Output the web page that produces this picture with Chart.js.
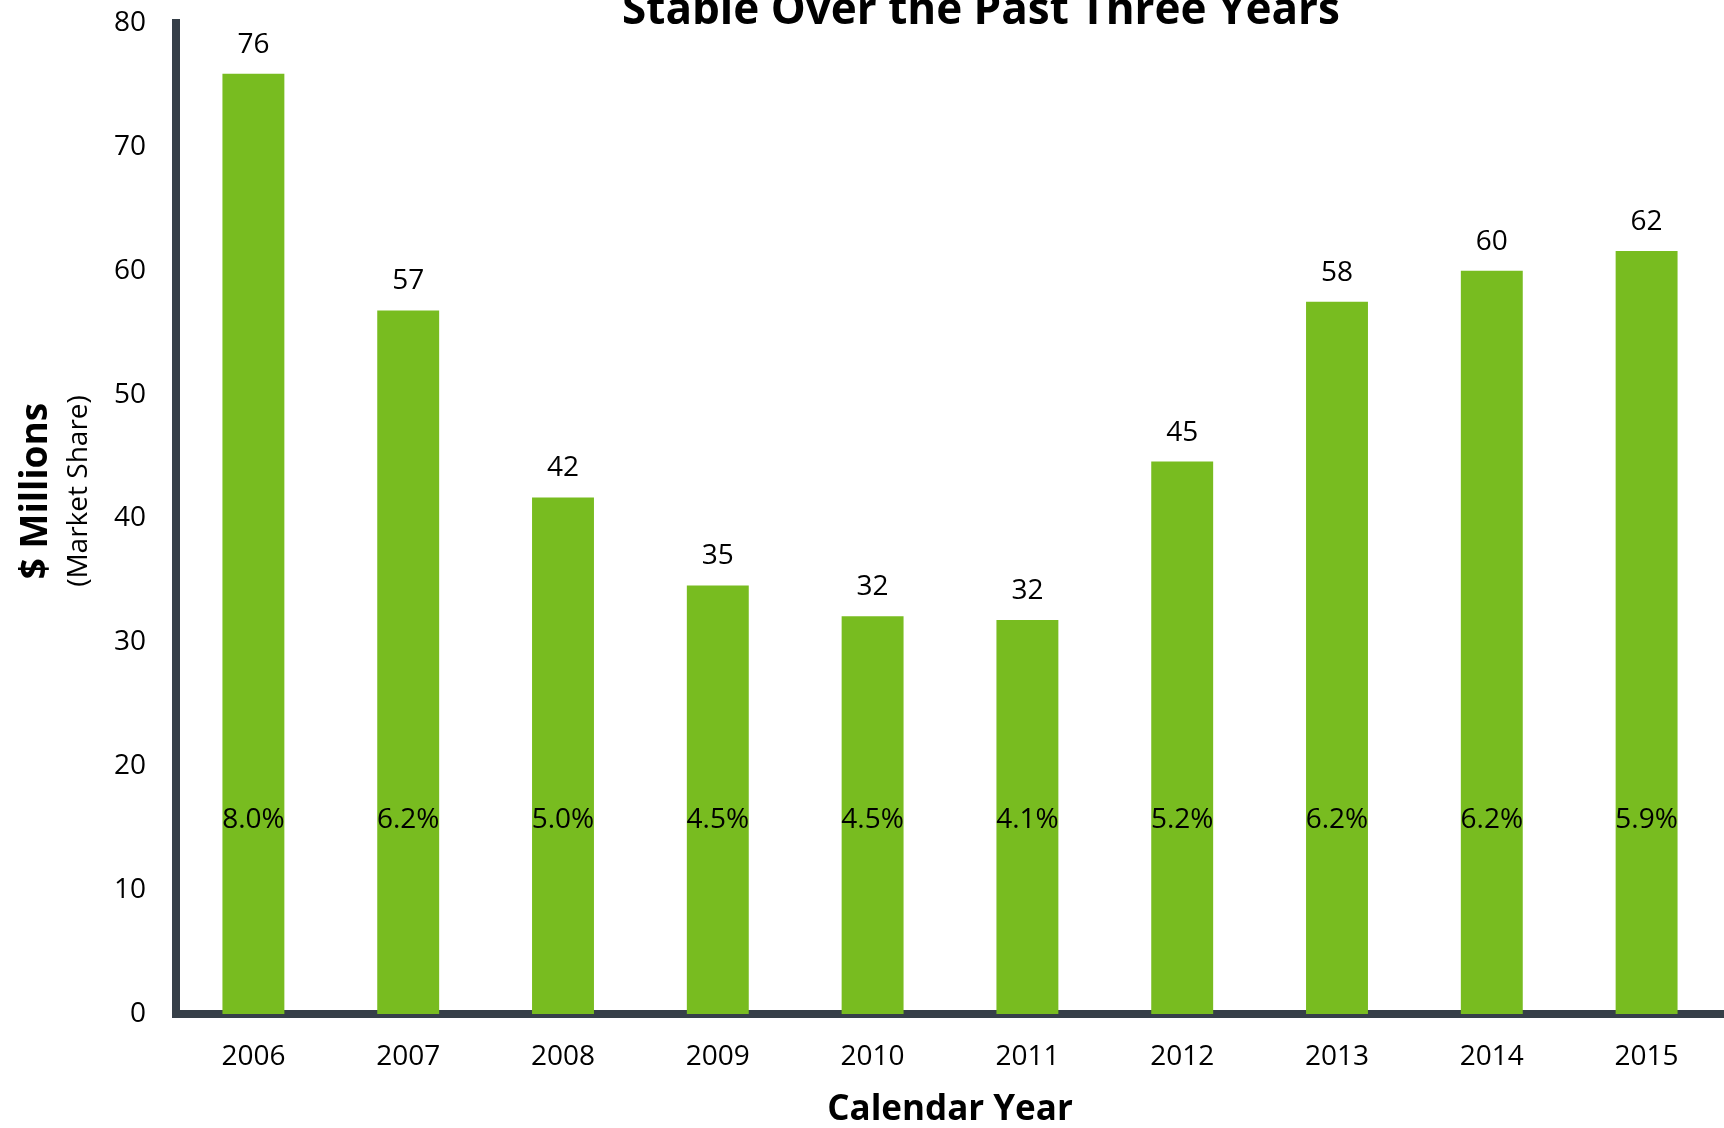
<!DOCTYPE html>
<html>
<head>
<meta charset="utf-8">
<script src="https://cdn.jsdelivr.net/npm/chart.js@4.4.1/dist/chart.umd.min.js"></script>
<style>
  html, body { margin: 0; padding: 0; background: #ffffff; }
  #wrap { position: relative; width: 1724px; height: 1128px; }
</style>
</head>
<body>
<div id="wrap"><canvas id="chart" width="1724" height="1128"></canvas></div>
<script>
// Calendar years on the category axis
const years = ['2006', '2007', '2008', '2009', '2010', '2011', '2012', '2013', '2014', '2015'];
// Revenue, $ millions
const revenue = [75.9, 56.8, 41.7, 34.6, 32.1, 31.8, 44.6, 57.5, 60.0, 61.6];
// Market share printed inside each bar
const marketShare = ['8.0%', '6.2%', '5.0%', '4.5%', '4.5%', '4.1%', '5.2%', '6.2%', '6.2%', '5.9%'];
// Value axis ticks
const yTicks = [0, 10, 20, 30, 40, 50, 60, 70, 80];

const chartTitle = 'Stable Over the Past Three Years';
const yTitleMain = '$ Millions';
const yTitleSub = '(Market Share)';
const xTitle = 'Calendar Year';

const GREEN = '#78bc20';
const SLATE = '#363f48';
const FONT = "'Open Sans', 'DejaVu Sans', sans-serif";
const SHARE_LEVEL = 15; // value-axis level of the share labels' baseline

const labelPlugin = {
  id: 'labels',
  afterDatasetsDraw(chart) {
    const ctx = chart.ctx;
    const meta = chart.getDatasetMeta(0);
    const yScale = chart.scales.y;
    ctx.save();
    ctx.fillStyle = '#000';
    ctx.textAlign = 'center';
    ctx.textBaseline = 'alphabetic';
    ctx.font = `28px ${FONT}`;
    meta.data.forEach((bar, i) => {
      ctx.fillText(String(Math.round(revenue[i])), bar.x, bar.y - 21);
      ctx.fillText(marketShare[i], bar.x, yScale.getPixelForValue(SHARE_LEVEL));
    });
    ctx.restore();
  },
  afterDraw(chart) {
    const ctx = chart.ctx;
    const area = chart.chartArea;
    ctx.save();
    ctx.fillStyle = '#000';
    ctx.textAlign = 'center';
    ctx.textBaseline = 'alphabetic';
    // chart heading
    ctx.font = `bold 44px ${FONT}`;
    ctx.fillText(chartTitle, 981, 24);
    // x-axis title
    ctx.font = `bold 35px ${FONT}`;
    ctx.fillText(xTitle, (area.left + area.right) / 2, 1120);
    // y-axis titles, rotated
    const cy = 491;
    ctx.save();
    ctx.translate(47, cy);
    ctx.rotate(-Math.PI / 2);
    ctx.font = `bold 37px ${FONT}`;
    ctx.fillText(yTitleMain, 0, 0);
    ctx.restore();
    ctx.save();
    ctx.translate(87, cy);
    ctx.rotate(-Math.PI / 2);
    ctx.font = `28px ${FONT}`;
    ctx.fillText(yTitleSub, 0, 0);
    ctx.restore();
    ctx.restore();
  }
};

new Chart(document.getElementById('chart'), {
  type: 'bar',
  data: {
    labels: years,
    datasets: [{
      data: revenue,
      backgroundColor: GREEN,
      borderWidth: 0,
      categoryPercentage: 1,
      barPercentage: 0.4
    }]
  },
  options: {
    responsive: false,
    animation: false,
    devicePixelRatio: 1,
    layout: { padding: { top: 23, right: 0, bottom: 0, left: 0 } },
    plugins: { legend: { display: false }, tooltip: { enabled: false }, title: { display: false } },
    scales: {
      x: {
        grid: { display: false, drawTicks: false },
        border: { display: true, color: SLATE, width: 8 },
        ticks: { color: '#000', font: { family: FONT, size: 28 }, padding: 26 },
        afterFit(scale) {
          scale.height = 114;
          scale.paddingLeft = 0;
          scale.paddingRight = 0;
        }
      },
      y: {
        min: 0,
        max: 80,
        afterBuildTicks(scale) { scale.ticks = yTicks.map(v => ({ value: v })); },
        grid: { display: false, drawTicks: false },
        border: { display: true, color: SLATE, width: 8 },
        ticks: { color: '#000', font: { family: FONT, size: 28 }, padding: 30 },
        afterFit(scale) {
          scale.width = 176;
          scale.paddingTop = 0;
          scale.paddingBottom = 0;
        }
      }
    }
  },
  plugins: [labelPlugin]
});
</script>
</body>
</html>
